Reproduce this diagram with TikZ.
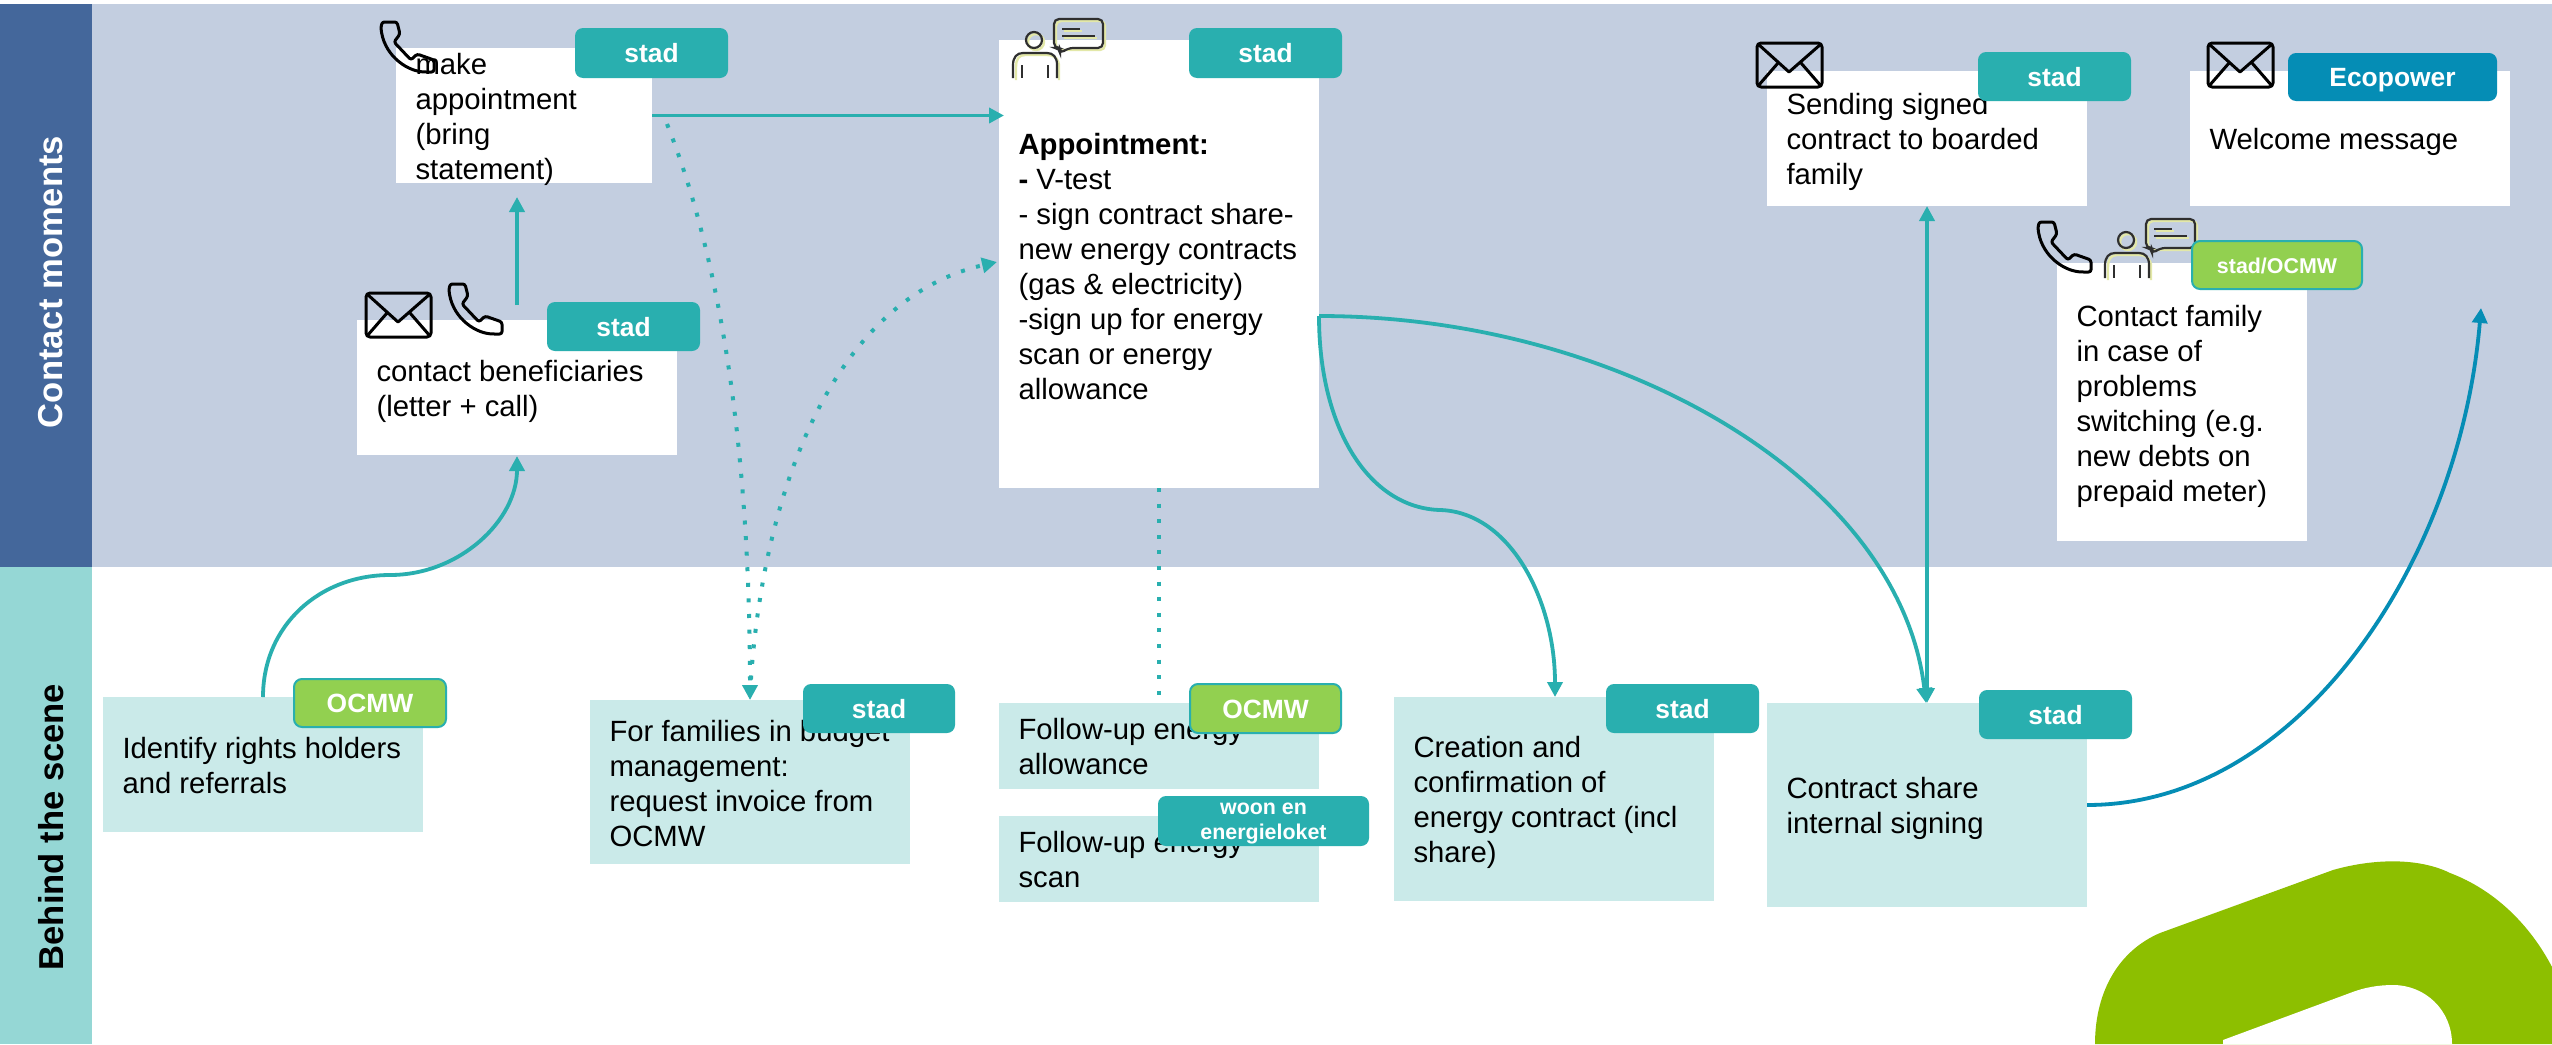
\documentclass[tikz,border=0pt]{standalone}
\usepackage{fontspec}
\setmainfont{Liberation Sans}
\usetikzlibrary{arrows.meta,calc}
\definecolor{bandc}{HTML}{C3CEE0}
\definecolor{darkb}{HTML}{44679B}
\definecolor{sidet}{HTML}{95D7D5}
\definecolor{lightt}{HTML}{CAEAE9}
\definecolor{tealc}{HTML}{29AFAF}
\definecolor{greenb}{HTML}{92D050}
\definecolor{ecoc}{HTML}{058DB5}
\definecolor{leaf}{HTML}{8DBF00}
\definecolor{icond}{HTML}{2F2F2F}
\definecolor{iconsh}{HTML}{E3E8A8}
\newdimen\upx \upx=.5pt
\newcommand{\bx}[8]{%
  \pgfmathsetlengthmacro\bxw{(#4-#2)*0.5}%
  \pgfmathsetlengthmacro\bxh{(#5-#3)*0.5}%
  \node[#6] (#1) at ({(#2+#4)/2},{(#3+#5)/2})
   {\parbox[c][\bxh][t]{\bxw}{\raggedright\leftskip=19.5\upx\relax
    \vspace*{\dimexpr #7\upx-11.75pt\relax}\strut #8}};}
\newcommand{\bdg}[7]{%
  \pgfmathsetlengthmacro\bxw{(#4-#2)*0.5}%
  \pgfmathsetlengthmacro\bxh{(#5-#3)*0.5}%
  \node[badge,#6,minimum width=\bxw,minimum height=\bxh] (#1) at ({(#2+#4)/2},{(#3+#5)/2}) {#7};}
\tikzset{
  whitebox/.style={fill=white,inner sep=0pt,outer sep=0pt,font=\fontsize{14.65}{17.5}\selectfont},
  softbox/.style={fill=lightt,inner sep=0pt,outer sep=0pt,font=\fontsize{14.65}{17.5}\selectfont},
  badge/.style={rounded corners=4pt,inner sep=0pt,outer sep=0pt,text=white,align=center,font=\fontsize{13.2}{15}\selectfont\bfseries},
  oneline/.style={text height=9.5pt,text depth=0pt},
  smallline/.style={text height=8pt,text depth=0pt},
  tealbadge/.style={fill=tealc},
  greenbadge/.style={fill=greenb,draw=tealc,line width=1pt},
  ecobadge/.style={fill=ecoc},
  smallbadge/.style={font=\fontsize{10.7}{12.5}\selectfont\bfseries},
  conn/.style={tealc,line width=1.9pt,-{Triangle[length=7.5pt,width=7.5pt]}},
  twoway/.style={tealc,line width=1.9pt,{Triangle[length=7.5pt,width=7.5pt]}-{Triangle[length=7.5pt,width=7.5pt]}},
  blueconn/.style={ecoc,line width=1.9pt,-{Triangle[length=7.5pt,width=7.5pt]}},
  dots/.style={tealc,line width=2pt,dash pattern=on 2pt off 5.8pt},
  dotsarrow/.style={dots,-{Triangle[length=7.5pt,width=7.5pt,sep=0pt]}},
  sidelabel/.style={rotate=90,font=\fontsize{17.3}{19}\selectfont\bfseries,inner sep=0pt},
  iconline/.style={black,line width=1.5pt,line join=round},
  pics/envelope/.style={code={
    \draw[iconline,rounded corners=2pt] (0,0) rectangle (65,44);
    \draw[iconline] (1,1) -- (32,29) -- (64,1) (1,43) -- (21,20) (64,43) -- (44,20);
  }},
  pics/phone/.style={code={
    \draw[iconline,rounded corners=1.2pt,fill=none] (1,6) -- (2,0) -- (17,0) -- (20,12) -- (14,20) -- (31,38) -- (37,32) -- (54,38) -- (54,50) -- (44,50)
      .. controls (25,48) and (3,32) .. (1,6);
  }},
  pics/talker/.style={code={
    \begin{scope}[iconsh,line width=1.2pt,shift={(2,2)}]
      \draw (21,21) circle (8);
      \draw (1,59) -- (1,46) .. controls (1,38) and (4,34) .. (10,34) -- (32,34) .. controls (40,34) and (44,38) .. (44,46) -- (44,59);
      \draw[rounded corners=2.5pt] (41,0) rectangle (90,29);
      \draw (49,10) -- (67,10) (49,17) -- (82,17);
    \end{scope}
    \begin{scope}[icond,line width=1.1pt]
      \draw (21,21) circle (8);
      \draw (0,59) -- (0,46) .. controls (0,38) and (4,34) .. (10,34) -- (34,34) .. controls (40,34) and (44,38) .. (44,46) -- (44,59);
      \draw (9,46) -- (9,59) (35,46) -- (35,59);
      \draw[rounded corners=2.5pt,fill=none] (47,29) -- (41,29) -- (41,0) -- (90,0) -- (90,29) -- (55,29) -- (47,35) -- cycle;
      \draw (49,10) -- (67,10) (49,17) -- (82,17);
    \end{scope}
  }},
}
\begin{document}
\begin{tikzpicture}[x=.5pt,y=-.5pt]
\useasboundingbox (0,0) rectangle (2552,1044);
\fill[white] (0,0) rectangle (2552,1044);
% bands
\fill[bandc] (92,4) rectangle (2552,567);
\fill[darkb] (0,4) rectangle (92,567);
\fill[sidet] (0,567) rectangle (92,1044);
\node[sidelabel,text=white] (cm) at (51,282) {Contact moments};
\node[sidelabel,text=black] (bs) at (51,827) {Behind the scene};
% decorative shape
\fill[leaf] (2095,1044) .. controls (2095,990) and (2120,950) .. (2160,933) -- (2333,870)
  .. controls (2375,858) and (2420,858) .. (2450,873) .. controls (2495,890) and (2530,925) .. (2552,967) -- (2552,1044) -- cycle;
\fill[white] (2223,1044) -- (2223,1040) -- (2350,993) .. controls (2365,987) and (2380,985) .. (2393,985) .. controls (2425,985) and (2452,1010) .. (2452,1044) -- cycle;
% boxes
\bx{make}{396}{48}{652}{183}{whitebox}{25}{make\\appointment\\(bring\\statement)}
\bx{contact}{357}{320}{677}{455}{whitebox}{60}{contact beneficiaries\\(letter + call)}
\bx{appt}{999}{40}{1319}{488}{whitebox}{113}{\textbf{Appointment:}\\\textbf{-} V-test\\- sign contract share-\\new energy contracts\\(gas \& electricity)\\-sign up for energy\\scan or energy\\allowance}
\bx{sending}{1767}{71}{2087}{206}{whitebox}{42}{Sending signed\\contract to boarded\\family}
\bx{welcome}{2190}{71}{2510}{206}{whitebox}{77}{Welcome message}
\bx{family}{2057}{263}{2307}{541}{whitebox}{62}{Contact family\\in case of\\problems\\switching (e.g.\\new debts on\\prepaid meter)}
\bx{identify}{103}{697}{423}{832}{softbox}{60}{Identify rights holders\\and referrals}
\bx{budget}{590}{700}{910}{864}{softbox}{40}{For families in budget\\management:\\request invoice from\\OCMW}
\bx{allow}{999}{703}{1319}{789}{softbox}{35}{Follow-up energy\\allowance}
\bx{scan}{999}{816}{1319}{902}{softbox}{35}{Follow-up energy\\scan}
\bx{creation}{1394}{697}{1714}{901}{softbox}{59}{Creation and\\confirmation of\\energy contract (incl\\share)}
\bx{share}{1767}{703}{2087}{907}{softbox}{94}{Contract share\\internal signing}
% free connector ends
\coordinate (c1) at (517,305);
\coordinate (m1) at (517,197);
\coordinate (a1) at (1004,115.5);
\coordinate (i1) at (263,697);
\coordinate (c2) at (517,456);
\coordinate (i2) at (390,575);
\coordinate (d1) at (667,124);
\coordinate (b1) at (750,700);
\coordinate (b2) at (750,695);
\coordinate (a2) at (997,262);
\coordinate (a3) at (1159,488);
\coordinate (f1) at (1159,700);
\coordinate (a4) at (1319,316);
\coordinate (k1) at (1440,510);
\coordinate (k2) at (1555,697);
\coordinate (s1) at (1926,703);
\coordinate (w1) at (2481,308);
% connectors
\draw[conn] (i1) .. controls (263,625) and (320,575) .. (i2) .. controls (460,575) and (517,520) .. (c2);
\draw[conn] (c1) -- (m1);
\draw[conn] (make.east) -- (a1);
\draw[dotsarrow] (d1) .. controls (725,270) and (750,470) .. (b1);
\draw[dotsarrow] (b2) .. controls (760,500) and (830,300) .. (a2);
\draw[dots] (a3) -- (f1);
\draw[conn] (a4) .. controls (1319,430) and (1370,508) .. (k1) .. controls (1510,512) and (1555,600) .. (k2);
\draw[conn] (a4) .. controls (1620,316) and (1900,480) .. (s1);
\draw[twoway] (sending.south) -- (share.north);
\draw[blueconn] (share.east) .. controls (2300,805) and (2460,560) .. (w1);
% icons
\pic at (366,293) {envelope};
\pic at (448,284) {phone};
\pic at (380,22) {phone};
\pic at (1013,19) {talker};
\pic at (1757,43) {envelope};
\pic at (2208,43) {envelope};
\pic at (2037,222) {phone};
\pic at (2105,219) {talker};
% badges
\bdg{b1s}{575}{28}{728}{78}{tealbadge,oneline}{stad}
\bdg{b2s}{547}{302}{700}{351}{tealbadge,oneline}{stad}
\bdg{b3s}{1189}{28}{1342}{78}{tealbadge,oneline}{stad}
\bdg{b4s}{1978}{52}{2131}{101}{tealbadge,oneline}{stad}
\bdg{b5e}{2288}{53}{2497}{101}{ecobadge,oneline}{Ecopower}
\bdg{b6s}{2192}{241}{2362}{289}{greenbadge,smallbadge,smallline}{stad/OCMW}
\bdg{b7o}{294}{679}{446}{727}{greenbadge,oneline}{OCMW}
\bdg{b8s}{803}{684}{955}{733}{tealbadge,oneline}{stad}
\bdg{b9o}{1190}{684}{1341}{733}{greenbadge,oneline}{OCMW}
\bdg{b10w}{1158}{796}{1369}{846}{tealbadge,smallbadge}{\rule{0pt}{8.5pt}woon en\\energieloket}
\bdg{b11s}{1606}{684}{1759}{733}{tealbadge,oneline}{stad}
\bdg{b12s}{1979}{690}{2132}{739}{tealbadge,oneline}{stad}
\end{tikzpicture}
\end{document}
